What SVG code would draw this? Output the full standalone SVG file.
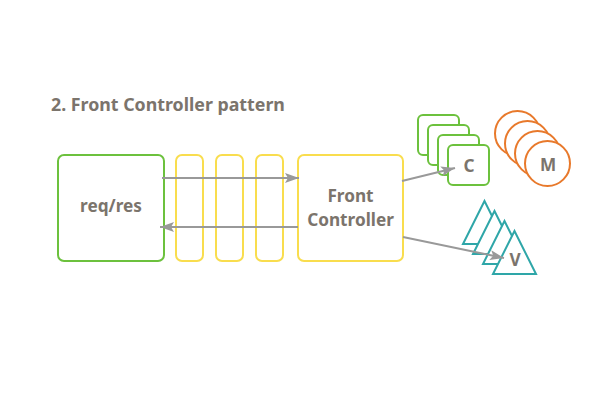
<svg xmlns="http://www.w3.org/2000/svg" width="595" height="420" viewBox="0 0 595 420">
<defs>
<style>
text{font-family:"Noto Sans","Open Sans","DejaVu Sans",sans-serif;font-weight:bold;fill:#7b746c;}
.g{fill:#fff;stroke:#6cc13d;stroke-width:2;}
.y{fill:#fff;stroke:#f9dd4e;stroke-width:2;}
.o{fill:#fff;stroke:#e8792b;stroke-width:2;}
.t{fill:#fff;stroke:#2ea6a8;stroke-width:2;stroke-linejoin:miter;}
.c{stroke:#999;stroke-width:2;fill:none;marker-end:url(#ah);}
</style>
<marker id="ah" viewBox="0 0 14 10" refX="14" refY="5" markerWidth="14" markerHeight="10" markerUnits="userSpaceOnUse" orient="auto">
<path d="M0,0 L14,5 L0,10 L3,5 Z" fill="#999"/>
</marker>
</defs>
<rect width="595" height="420" fill="#fff"/>
<text x="51" y="111" font-size="17.8">2. Front Controller pattern</text>
<g id="reqres">
<rect class="g" x="58" y="155" width="106" height="106" rx="6"/>
<text x="111" y="212" font-size="17.2" text-anchor="middle">req/res</text>
</g>
<g id="filter1"><rect class="y" x="176" y="155" width="27" height="106" rx="6"/></g>
<g id="filter2"><rect class="y" x="216" y="155" width="27" height="106" rx="6"/></g>
<g id="filter3"><rect class="y" x="256" y="155" width="27" height="106" rx="6"/></g>
<g id="frontcontroller">
<rect class="y" x="298" y="155" width="105" height="106" rx="6"/>
<text x="350.5" y="202" font-size="17.2" text-anchor="middle">Front</text>
<text x="350.5" y="225.5" font-size="17.2" text-anchor="middle">Controller</text>
</g>
<g id="controllers">
<rect class="g" x="418" y="115" width="41" height="40" rx="5"/>
<rect class="g" x="428" y="125" width="41" height="40" rx="5"/>
<rect class="g" x="438" y="135" width="41" height="40" rx="5"/>
<rect class="g" x="448" y="145" width="41" height="40" rx="5"/>
<text x="469" y="172" font-size="17.2" text-anchor="middle">C</text>
</g>
<g id="models">
<circle class="o" cx="517.5" cy="133.5" r="22.5"/>
<circle class="o" cx="527.5" cy="143.5" r="22.5"/>
<circle class="o" cx="537.5" cy="153.5" r="22.5"/>
<circle class="o" cx="547.5" cy="163.5" r="22.5"/>
<text x="548" y="171" font-size="17.2" text-anchor="middle">M</text>
</g>
<g id="views">
<polygon class="t" points="484.5,201 463,244 506,244"/>
<polygon class="t" points="494.5,211 473,254 516,254"/>
<polygon class="t" points="504.5,221 483,264 526,264"/>
<polygon class="t" points="514.5,231 493,274 536,274"/>
<text x="515" y="266" font-size="17.2" text-anchor="middle">V</text>
</g>
<g id="connectors">
<line class="c" x1="162" y1="178" x2="299" y2="178"/>
<line class="c" x1="298" y1="227" x2="160" y2="227"/>
<line class="c" x1="402" y1="181" x2="455" y2="168"/>
<line class="c" x1="403" y1="237" x2="504" y2="258"/>
</g>
</svg>
